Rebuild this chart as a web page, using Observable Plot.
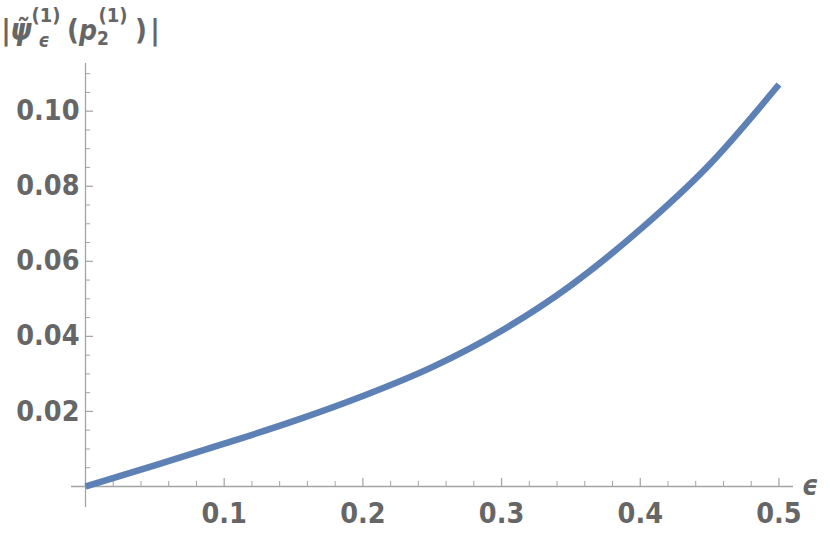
<!DOCTYPE html>
<html>
<head>
<meta charset="utf-8">
<script src="https://cdn.jsdelivr.net/npm/d3@7"></script>
<script src="https://cdn.jsdelivr.net/npm/@observablehq/plot@0.6"></script>
<style>
  html, body { margin: 0; padding: 0; background: #fff; }
  #chart svg { display: block; }
</style>
</head>
<body>
<div id="chart"></div>
<script>
// ---- data ----
const epsilon = [0, 0.05, 0.1, 0.15, 0.2, 0.25, 0.3, 0.35, 0.4, 0.45, 0.5];
const psiAbs  = [0, 0.0056, 0.0114, 0.0174, 0.0241, 0.0318, 0.0415, 0.0536, 0.0685, 0.0858, 0.1071];

const xTicks = [0.1, 0.2, 0.3, 0.4, 0.5];
const xTickLabels = ["0.1", "0.2", "0.3", "0.4", "0.5"];
const xMinorTicks = [0.02, 0.04, 0.06, 0.08, 0.12, 0.14, 0.16, 0.18, 0.22, 0.24, 0.26, 0.28,
                     0.32, 0.34, 0.36, 0.38, 0.42, 0.44, 0.46, 0.48];
const yTicks = [0.02, 0.04, 0.06, 0.08, 0.10];
const yTickLabels = ["0.02", "0.04", "0.06", "0.08", "0.10"];
const yMinorTicks = [0.005, 0.01, 0.015, 0.025, 0.03, 0.035, 0.045, 0.05, 0.055, 0.065, 0.07,
                     0.075, 0.085, 0.09, 0.095, 0.105, 0.11];

const xAxisTitle = "ϵ";

// ---- styling ----
const font = "'DejaVu Sans Condensed', 'DejaVu Sans', sans-serif";
const axisColor = "#a3a3a3";
const labelColor = "#666666";
const lineColor = "#5e81b5";
const labelSize = 28.5;

const data = epsilon.map((e, i) => ({e, v: psiAbs[i]}));
const xt = xTicks.map((v, i) => ({v, label: xTickLabels[i]}));
const yt = yTicks.map((v, i) => ({v, label: yTickLabels[i]}));

const chart = Plot.plot({
  width: 830,
  height: 535,
  marginLeft: 71,
  marginRight: 37,
  marginTop: 63,
  marginBottom: 28,
  x: {domain: [-0.0101, 0.5105], axis: null},
  y: {domain: [-0.0056, 0.1127], axis: null},
  style: {background: "#fff", fontFamily: font},
  marks: [
    // axes through the origin
    Plot.ruleY([0], {stroke: axisColor, strokeWidth: 1.3}),
    Plot.ruleX([0], {stroke: axisColor, strokeWidth: 1.3}),
    // x ticks
    Plot.ruleX(xTicks, {x: d => d, y1: 0, y2: 0, insetTop: -8, stroke: axisColor, strokeWidth: 1.2}),
    Plot.ruleX(xMinorTicks, {x: d => d, y1: 0, y2: 0, insetTop: -5, stroke: axisColor, strokeWidth: 1}),
    // y ticks
    Plot.ruleY(yTicks, {y: d => d, x1: 0, x2: 0, insetRight: -8, stroke: axisColor, strokeWidth: 1.2}),
    Plot.ruleY(yMinorTicks, {y: d => d, x1: 0, x2: 0, insetRight: -5, stroke: axisColor, strokeWidth: 1}),
    // curve
    Plot.line(data, {x: "e", y: "v", stroke: lineColor, strokeWidth: 6.5, curve: "monotone-x", strokeLinecap: "butt"}),
    // tick labels
    Plot.text(xt, {x: "v", y: () => 0, text: "label", dy: 27, fontSize: labelSize, fontWeight: "bold", fill: labelColor}),
    Plot.text(yt, {x: () => 0, y: "v", text: "label", textAnchor: "end", dx: -6, fontSize: labelSize, fontWeight: "bold", fill: labelColor})
  ]
});

document.getElementById("chart").appendChild(chart);

// ---- axis titles (real text) ----
const svg = d3.select(chart);
const g = svg.append("g")
  .attr("fill", labelColor)
  .attr("font-family", font)
  .attr("font-weight", "bold");

function t(str, x, y, size, italic) {
  g.append("text")
    .attr("x", x).attr("y", y)
    .attr("font-size", size)
    .attr("font-style", italic ? "italic" : "normal")
    .text(str);
}
// y-axis title: | ψ̃_ε^(1) ( p_2^(1) ) |
t("|", 6, 40, 29, false);
t("ψ\u0303", 21, 40, 30, true);
t("(1)", 46, 22, 20, false);
t("ϵ", 44, 47, 19, true);
t("(", 73, 40, 29, false);
t("p", 88, 40, 28, true);
t("2", 103, 45, 19, false);
t("(1)", 113, 22, 20, false);
t(")", 141, 40, 29, false);
t("|", 155, 40, 29, false);

// x-axis title
t(xAxisTitle, 810, 495, 28, true);
</script>
</body>
</html>
